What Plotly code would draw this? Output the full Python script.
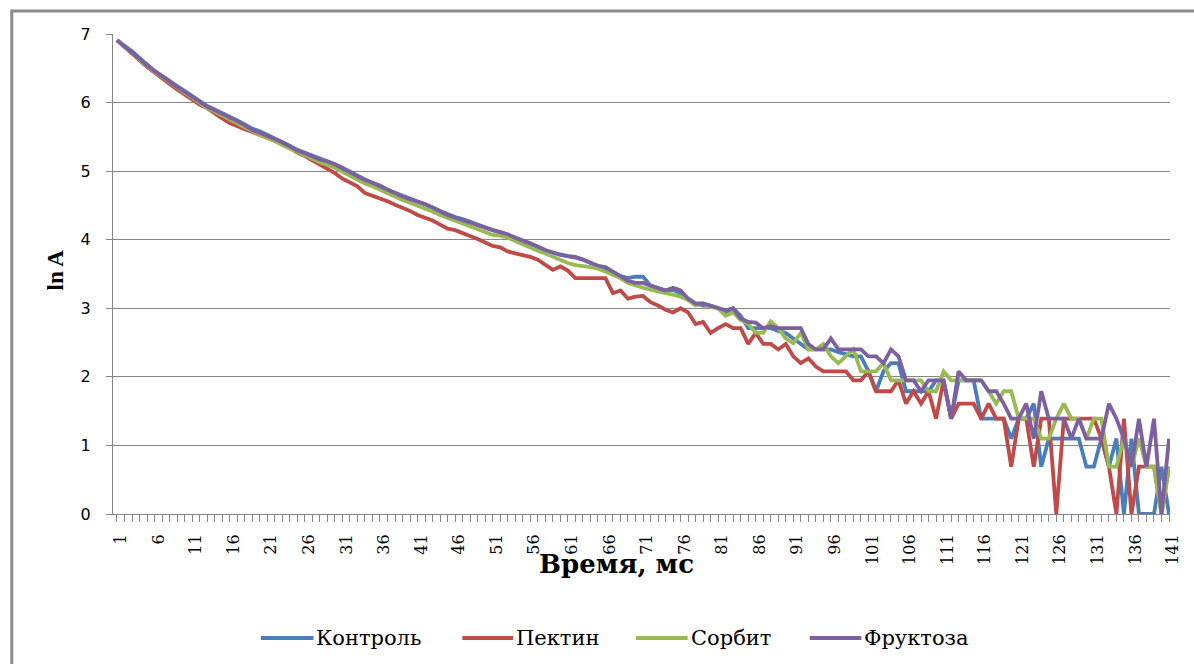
import plotly.graph_objects as go

# ---------------- data ----------------
time_ms = list(range(1, 142))
x_tick_labels = [str(v) if (v - 1) % 5 == 0 else "" for v in time_ms]
y_tick_values = [0, 1, 2, 3, 4, 5, 6, 7]
series_names = ["Контроль", "Пектин", "Сорбит", "Фруктоза"]

kontrol = [
    6.91, 6.83, 6.75, 6.65, 6.55, 6.46, 6.39, 6.31, 6.24, 6.17,
    6.10, 6.02, 5.95, 5.90, 5.85, 5.79, 5.74, 5.68, 5.62, 5.58,
    5.53, 5.48, 5.42, 5.37, 5.31, 5.27, 5.22, 5.18, 5.14, 5.10,
    5.05, 4.99, 4.93, 4.88, 4.83, 4.79, 4.73, 4.68, 4.64, 4.60,
    4.56, 4.52, 4.47, 4.42, 4.37, 4.33, 4.30, 4.26, 4.21, 4.17,
    4.14, 4.11, 4.07, 4.03, 3.99, 3.95, 3.89, 3.84, 3.81, 3.78,
    3.76, 3.74, 3.71, 3.66, 3.62, 3.58, 3.53, 3.47, 3.44, 3.46,
    3.46, 3.33, 3.29, 3.26, 3.27, 3.22, 3.14, 3.07, 3.04, 3.04,
    3.00, 2.94, 3.00, 2.89, 2.71, 2.71, 2.71, 2.71, 2.67, 2.64,
    2.56, 2.48, 2.40, 2.40, 2.40, 2.40, 2.36, 2.33, 2.30, 2.30,
    2.08, 1.79, 2.08, 2.20, 2.20, 1.79, 1.79, 1.79, 1.79, 1.95,
    1.95, 1.39, 1.95, 1.95, 1.95, 1.39, 1.39, 1.39, 1.39, 1.10,
    1.39, 1.39, 1.61, 0.69, 1.10, 1.10, 1.10, 1.10, 1.10, 0.69,
    0.69, 1.10, 0.69, 1.10, 0.00, 1.10, 0.00, 0.00, 0.00, 0.69,
    0.00,
]

pektin = [
    6.91, 6.81, 6.72, 6.62, 6.52, 6.44, 6.35, 6.27, 6.19, 6.12,
    6.04, 5.97, 5.92, 5.84, 5.77, 5.70, 5.65, 5.61, 5.57, 5.53,
    5.49, 5.45, 5.40, 5.34, 5.27, 5.22, 5.16, 5.10, 5.04, 4.97,
    4.89, 4.84, 4.78, 4.68, 4.64, 4.61, 4.56, 4.51, 4.47, 4.42,
    4.36, 4.32, 4.28, 4.22, 4.16, 4.14, 4.10, 4.05, 4.01, 3.96,
    3.91, 3.89, 3.83, 3.80, 3.78, 3.75, 3.71, 3.64, 3.56, 3.61,
    3.55, 3.44, 3.44, 3.44, 3.44, 3.44, 3.22, 3.26, 3.14, 3.17,
    3.18, 3.09, 3.04, 2.98, 2.94, 3.00, 2.94, 2.77, 2.80, 2.64,
    2.71, 2.77, 2.71, 2.71, 2.48, 2.64, 2.48, 2.48, 2.40, 2.48,
    2.30, 2.20, 2.27, 2.15, 2.08, 2.08, 2.08, 2.08, 1.95, 1.95,
    2.08, 1.79, 1.79, 1.79, 1.95, 1.61, 1.79, 1.61, 1.79, 1.39,
    1.95, 1.39, 1.61, 1.61, 1.61, 1.39, 1.61, 1.39, 1.39, 0.69,
    1.39, 1.39, 0.69, 1.39, 1.39, 0.00, 1.39, 1.39, 1.39, 1.39,
    1.39, 1.10, 0.69, 0.00, 1.39, 0.00, 0.69, 0.69, 0.69, 0.00,
    0.69,
]

sorbit = [
    6.91, 6.82, 6.73, 6.63, 6.53, 6.45, 6.37, 6.29, 6.21, 6.14,
    6.07, 5.99, 5.92, 5.87, 5.81, 5.76, 5.70, 5.64, 5.58, 5.53,
    5.49, 5.44, 5.38, 5.33, 5.27, 5.22, 5.17, 5.13, 5.09, 5.05,
    4.99, 4.93, 4.87, 4.82, 4.78, 4.73, 4.67, 4.62, 4.58, 4.54,
    4.50, 4.46, 4.41, 4.36, 4.32, 4.27, 4.23, 4.19, 4.15, 4.11,
    4.07, 4.06, 4.03, 3.98, 3.93, 3.89, 3.84, 3.80, 3.75, 3.70,
    3.66, 3.63, 3.62, 3.60, 3.58, 3.53, 3.49, 3.44, 3.37, 3.33,
    3.30, 3.27, 3.24, 3.22, 3.20, 3.17, 3.12, 3.04, 3.07, 3.02,
    3.00, 2.89, 2.94, 2.83, 2.77, 2.64, 2.64, 2.81, 2.71, 2.56,
    2.49, 2.64, 2.40, 2.40, 2.48, 2.30, 2.20, 2.30, 2.40, 2.08,
    2.08, 2.08, 2.20, 1.95, 1.95, 1.95, 1.95, 1.95, 1.79, 1.79,
    2.08, 1.95, 1.95, 1.95, 1.95, 1.95, 1.79, 1.61, 1.79, 1.79,
    1.39, 1.39, 1.39, 1.10, 1.10, 1.39, 1.61, 1.39, 1.39, 1.10,
    1.39, 1.39, 0.69, 0.69, 1.10, 0.69, 1.10, 0.69, 0.69, 0.00,
    0.69,
]

fruktoza = [
    6.91, 6.82, 6.74, 6.64, 6.54, 6.46, 6.38, 6.30, 6.23, 6.16,
    6.09, 6.01, 5.94, 5.89, 5.84, 5.79, 5.73, 5.67, 5.60, 5.56,
    5.52, 5.47, 5.42, 5.36, 5.30, 5.26, 5.21, 5.17, 5.14, 5.10,
    5.04, 4.98, 4.92, 4.87, 4.83, 4.78, 4.72, 4.67, 4.63, 4.59,
    4.56, 4.52, 4.47, 4.41, 4.36, 4.32, 4.29, 4.25, 4.21, 4.17,
    4.14, 4.11, 4.08, 4.03, 3.99, 3.95, 3.90, 3.85, 3.81, 3.78,
    3.76, 3.75, 3.71, 3.66, 3.62, 3.60, 3.53, 3.47, 3.40, 3.37,
    3.37, 3.33, 3.29, 3.26, 3.30, 3.26, 3.14, 3.07, 3.07, 3.04,
    3.00, 2.97, 3.00, 2.85, 2.80, 2.79, 2.71, 2.74, 2.71, 2.71,
    2.71, 2.71, 2.48, 2.40, 2.40, 2.56, 2.40, 2.40, 2.40, 2.40,
    2.30, 2.30, 2.20, 2.40, 2.30, 1.95, 1.95, 1.79, 1.95, 1.95,
    1.95, 1.39, 2.08, 1.95, 1.95, 1.95, 1.79, 1.79, 1.61, 1.39,
    1.39, 1.61, 1.10, 1.79, 1.39, 1.39, 1.39, 1.10, 1.39, 1.10,
    1.10, 1.10, 1.61, 1.39, 1.10, 0.69, 1.39, 0.69, 1.39, 0.00,
    1.10,
]

series_values = [kontrol, pektin, sorbit, fruktoza]
series_colors = ["#4A7EBB", "#BE4B48", "#98B954", "#7D60A0"]

# ---------------- figure ----------------
W, H = 1194, 664
L, R, T, B = 113, 16, 34, 150
pw, ph = W - L - R, H - T - B
SERIF_BOLD = "Liberation Serif"
SERIF = "DejaVu Serif"


def px_to_paper_x(px):
    return (px - L) / pw


def px_to_paper_y(py):
    return (H - B - py) / ph


fig = go.Figure()
for name, ys, col in zip(series_names, series_values, series_colors):
    fig.add_trace(go.Scatter(
        x=time_ms, y=ys, mode="lines", name=name,
        line=dict(color=col, width=3.8), showlegend=False,
    ))

grid_col = "#868686"
fig.update_layout(
    width=W, height=H,
    margin=dict(l=L, r=R, t=T, b=B, pad=0),
    paper_bgcolor="white", plot_bgcolor="white",
    showlegend=False,
    xaxis=dict(
        range=[0.472, 141.13],
        tickmode="array", tickvals=time_ms, ticktext=x_tick_labels,
        tickangle=-90,
        tickfont=dict(family=SERIF, size=16, color="black"),
        ticks="outside", ticklen=7, tickcolor=grid_col, tickwidth=1,
        showline=True, linecolor=grid_col, linewidth=1,
        showgrid=False, zeroline=False,
        ticklabelstandoff=6, ticklabelshift=4,
    ),
    yaxis=dict(
        range=[0, 7],
        tickmode="array", tickvals=y_tick_values,
        ticktext=[str(v) for v in y_tick_values],
        tickfont=dict(family="DejaVu Sans", size=16, color="black"),
        ticks="outside", ticklen=6, tickcolor=grid_col, tickwidth=1,
        showline=True, linecolor=grid_col, linewidth=1,
        showgrid=True, gridcolor=grid_col, gridwidth=1,
        zeroline=False,
        ticklabelstandoff=12,
    ),
)

fig.add_annotation(
    text="<b>ln A</b>", x=px_to_paper_x(55), y=px_to_paper_y(270),
    xref="paper", yref="paper", showarrow=False, textangle=-90,
    xanchor="center", yanchor="middle",
    font=dict(family=SERIF_BOLD, size=23, color="black"),
)
fig.add_annotation(
    text="<b>Время, мс</b>", x=px_to_paper_x(620), y=px_to_paper_y(564),
    xref="paper", yref="paper", showarrow=False,
    xanchor="center", yanchor="middle",
    font=dict(family=SERIF, size=26, color="black"),
)

# legend drawn as line samples + text labels
legend_sample_px = [(262, 315), (465, 516), (640, 692), (815, 867)]
legend_y = px_to_paper_y(638)
for (a, b), name, col in zip(legend_sample_px, series_names, series_colors):
    fig.add_shape(
        type="line", xref="paper", yref="paper",
        x0=px_to_paper_x(a), x1=px_to_paper_x(b), y0=legend_y, y1=legend_y,
        line=dict(color=col, width=3.8),
    )
    fig.add_annotation(
        text=name, x=px_to_paper_x(b + 1), y=legend_y,
        xref="paper", yref="paper", showarrow=False,
        xanchor="left", yanchor="middle",
        font=dict(family=SERIF, size=21, color="black"),
    )

# chart-area border (only top and left edges fall inside the picture)
fig.add_shape(
    type="rect", xref="paper", yref="paper",
    x0=px_to_paper_x(11), y0=px_to_paper_y(700),
    x1=px_to_paper_x(1230), y1=px_to_paper_y(11),
    line=dict(color="#8C8C8C", width=3), fillcolor="rgba(0,0,0,0)",
    layer="below",
)

fig.write_html("out.html")
